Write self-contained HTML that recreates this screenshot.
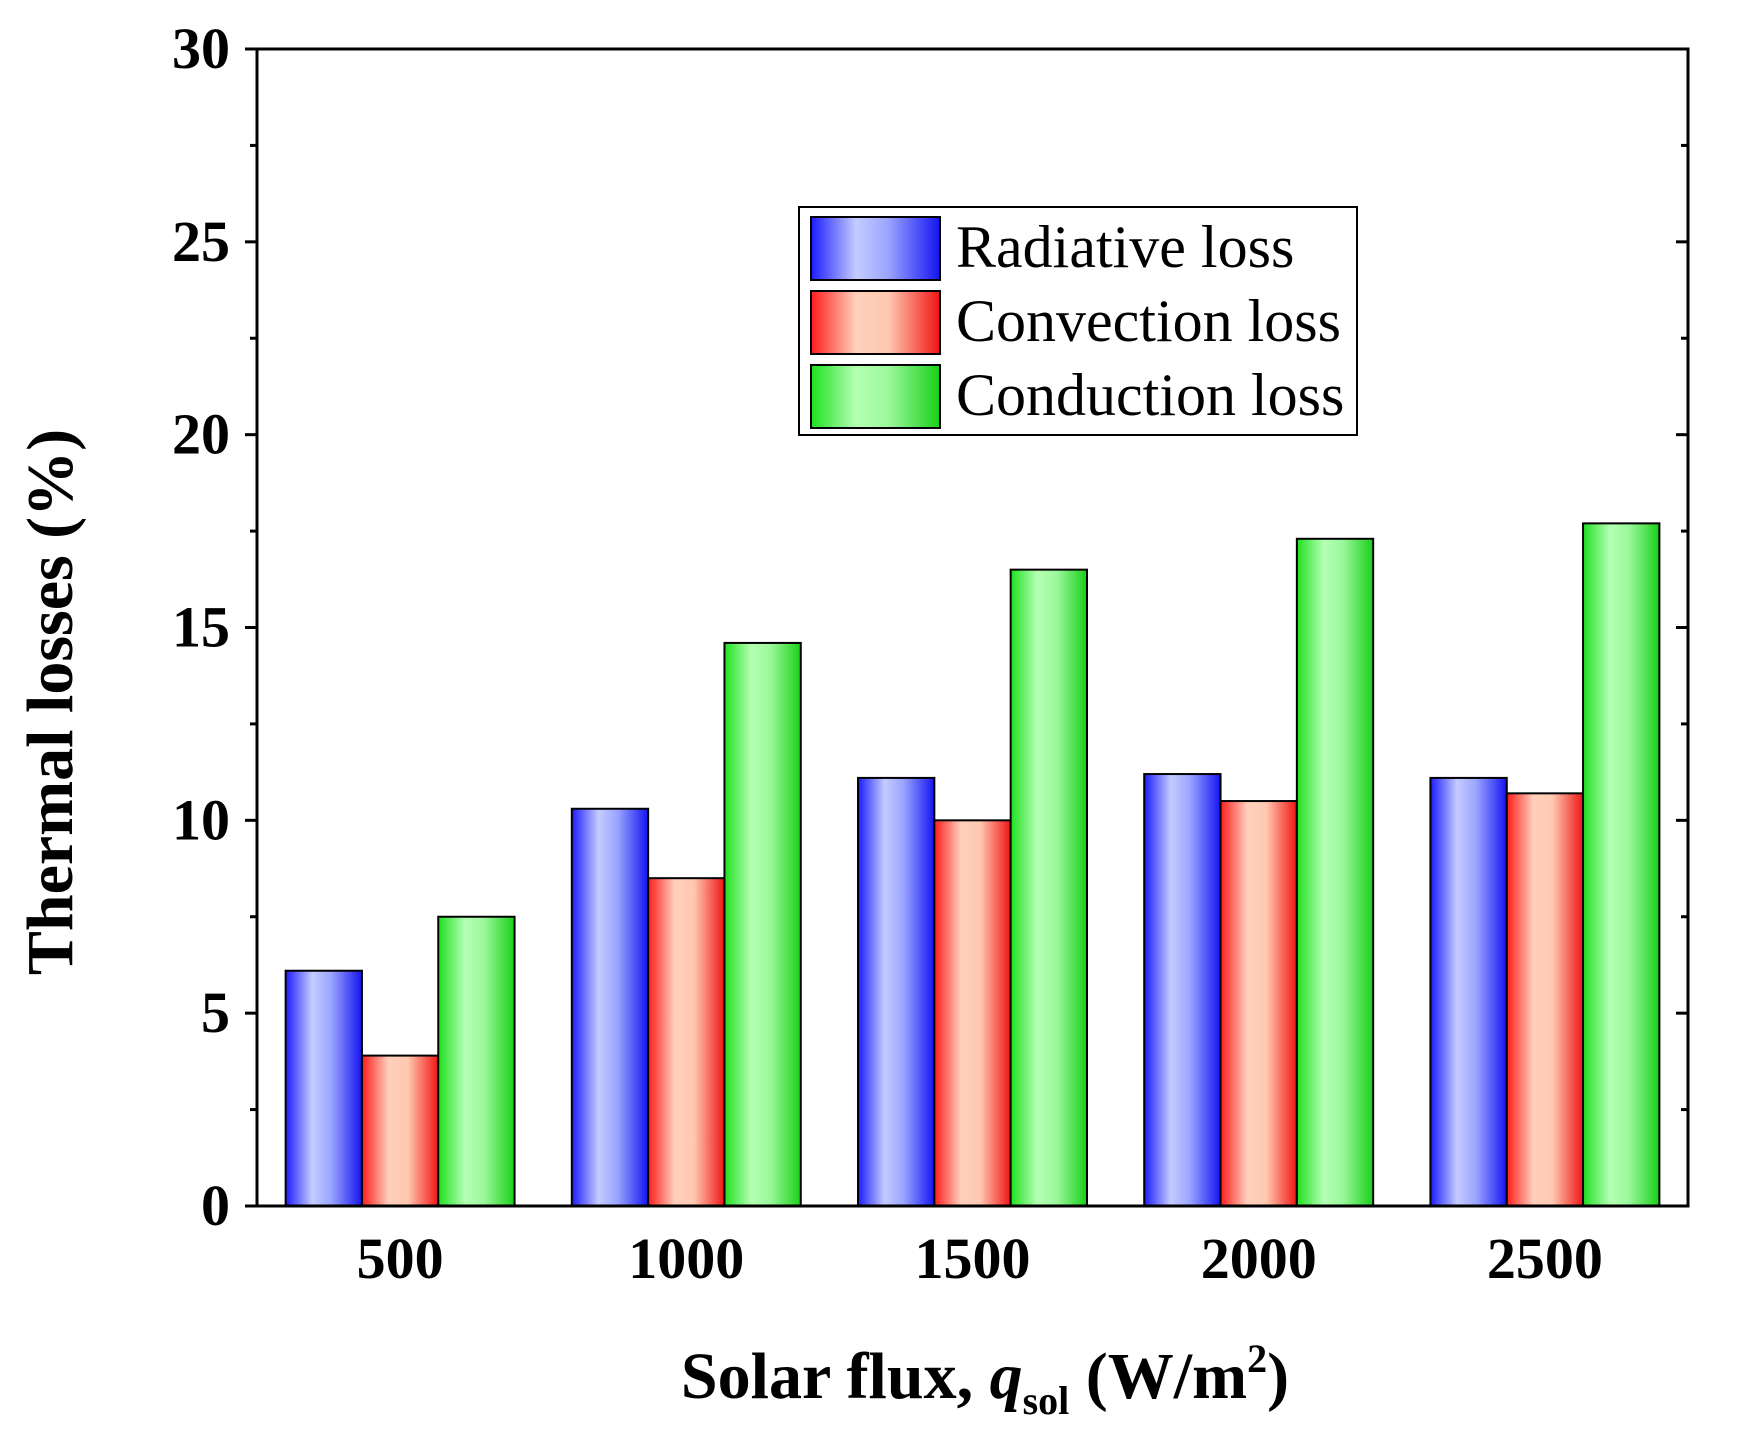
<!DOCTYPE html>
<html><head><meta charset="utf-8"><style>
html,body{margin:0;padding:0;background:#fff;}
svg{display:block;font-family:"Liberation Serif",serif;}
</style></head><body>
<svg id="chart" width="1749" height="1444" viewBox="0 0 1749 1444" xmlns="http://www.w3.org/2000/svg">
<defs>
<linearGradient id="gB" x1="0" x2="1" y1="0" y2="0"><stop offset="0" stop-color="#1c1cff"/><stop offset="0.35" stop-color="#c4ccff"/><stop offset="0.6" stop-color="#9aa4ff"/><stop offset="1" stop-color="#1414f0"/></linearGradient>
<linearGradient id="gR" x1="0" x2="1" y1="0" y2="0"><stop offset="0" stop-color="#ff1c1c"/><stop offset="0.35" stop-color="#ffd0bc"/><stop offset="0.6" stop-color="#ffc8b0"/><stop offset="1" stop-color="#f01414"/></linearGradient>
<linearGradient id="gG" x1="0" x2="1" y1="0" y2="0"><stop offset="0" stop-color="#1ee01e"/><stop offset="0.35" stop-color="#b4ffb4"/><stop offset="0.6" stop-color="#9cf89c"/><stop offset="1" stop-color="#18d018"/></linearGradient>
</defs>
<g id="plot"></g>
<text transform="translate(72,702) rotate(-90)" text-anchor="middle" font-size="66" font-weight="bold">Thermal losses (%)</text>
<text x="985" y="1398" text-anchor="middle" font-size="66" font-weight="bold">Solar flux, <tspan font-style="italic">q</tspan><tspan font-size="40" dy="16">sol</tspan><tspan dy="-16"> (W/m</tspan><tspan font-size="40" dy="-26">2</tspan><tspan dy="26">)</tspan></text>
</svg>
<script>
const categories = [500, 1000, 1500, 2000, 2500];
const radiative = [6.1, 10.3, 11.1, 11.2, 11.1];
const convection = [3.9, 8.5, 10.0, 10.5, 10.7];
const conduction = [7.5, 14.6, 16.5, 17.3, 17.7];
const yTicks = [0, 5, 10, 15, 20, 25, 30];
const seriesNames = ["Radiative loss", "Convection loss", "Conduction loss"];

const NS = "http://www.w3.org/2000/svg";
const L = 257, R = 1688, T = 49, B = 1206;
const xMin = 250, xMax = 2750, yMax = 30;
const xs = v => L + (v - xMin) / (xMax - xMin) * (R - L);
const ys = v => B - v / yMax * (B - T);
const g = document.getElementById('plot');
function mk(tag, attrs, parent) {
  const e = document.createElementNS(NS, tag);
  for (const k in attrs) e.setAttribute(k, attrs[k]);
  (parent || g).appendChild(e);
  return e;
}
const series = [radiative, convection, conduction];
const fills = ["url(#gB)", "url(#gR)", "url(#gG)"];
const bandW = (xs(500) - xs(0)) * 0.8;
const barW = bandW / 3;
series.forEach((vals, si) => {
  vals.forEach((v, i) => {
    const x0 = xs(categories[i]) - bandW / 2 + si * barW;
    const r = mk('rect', {x: x0, y: ys(v), width: barW, height: ys(0) - ys(v), fill: fills[si], stroke: '#000', 'stroke-width': 2});
    
    
  });
});
const fr = mk('rect', {x: L, y: T, width: R - L, height: B - T, fill: 'none', stroke: '#000', 'stroke-width': 3});


for (let v = 0; v <= yMax; v += 2.5) {
  const major = v % 5 === 0;
  const len = major ? 12 : 7;
  mk('line', {x1: L - len, x2: L, y1: ys(v), y2: ys(v), stroke: '#000', 'stroke-width': 3});
  mk('line', {x1: R - len, x2: R, y1: ys(v), y2: ys(v), stroke: '#000', 'stroke-width': 3});
}
yTicks.forEach(v => {
  const t = mk('text', {x: L - 27, y: ys(v) + 19, 'text-anchor': 'end', 'font-size': 58, 'font-weight': 'bold'});
  t.textContent = v;
  
  
});
categories.forEach(c => {
  const t = mk('text', {x: xs(c), y: 1278, 'text-anchor': 'middle', 'font-size': 58, 'font-weight': 'bold'});
  t.textContent = c;
  
  
});
const lg = mk('g', {});


mk('rect', {x: 799, y: 207, width: 558, height: 228, fill: '#fff', stroke: '#000', 'stroke-width': 2}, lg);
const rowY = [217, 291, 365];
seriesNames.forEach((n, i) => {
  mk('rect', {x: 811, y: rowY[i], width: 129, height: 63, fill: fills[i], stroke: '#000', 'stroke-width': 2}, lg);
  const t = mk('text', {x: 956, y: rowY[i] + 50, 'font-size': 60}, lg);
  t.textContent = n;
  
  
});
</script>
</body></html>
